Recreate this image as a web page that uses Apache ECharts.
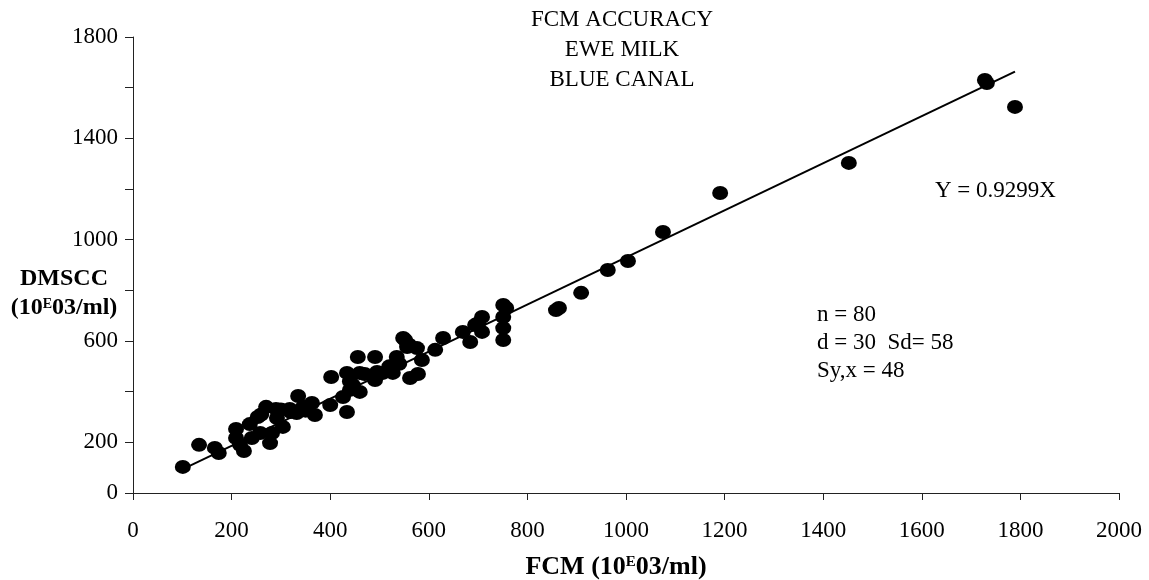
<!DOCTYPE html>
<html>
<head>
<meta charset="utf-8">
<script src="https://cdn.jsdelivr.net/npm/echarts@6/dist/echarts.min.js"></script>
<style>html,body{margin:0;padding:0;background:#fff}#c{width:1149px;height:580px}</style>
</head>
<body>
<div id="c"></div>
<script>
// FCM (x) values, 10^3/ml
const fcm = [101,134,166,174,209,209,217,225,241,237,253,270,282,278,290,304,292,258,318,335,
  332,345,363,369,400,402,434,426,434,440,446,456,460,460,491,491,495,507,527,535,
  548,556,576,562,578,586,552,613,629,669,684,694,708,708,751,757,751,751,751,858,
  864,909,963,1004,1075,1191,1452,1728,1732,1789,320,350,540,470,440,520,700,560,260,300];
// DMSCC (y) values, 10^3/ml
const dmscc = [103,190,178,158,253,217,190,166,217,272,300,340,237,197,332,261,296,237,332,383,
  316,340,355,308,347,458,320,379,474,407,426,537,474,399,537,446,478,474,474,537,
  612,576,572,454,470,525,604,565,612,636,596,663,695,636,742,730,695,651,604,722,
  730,790,880,916,1030,1184,1303,1630,1618,1524,320,325,510,470,440,500,670,585,310,330];
const slope = 0.9299;
const xTicks = [0,200,400,600,800,1000,1200,1400,1600,1800,2000];
const yTickLabels = [0,200,600,1000,1400,1800];
const titleLines = ['FCM ACCURACY','EWE MILK','BLUE CANAL'];
const equationText = 'Y = 0.9299X';
const statsLines = ['n = 80','d = 30  Sd= 58','Sy,x = 48'];

const points = fcm.map((x,i)=>[x,dmscc[i]]);
const xMin = Math.min(...fcm), xMax = Math.max(...fcm);
const fitLine = [[xMin, slope*xMin],[xMax, slope*xMax]];

const FONT = '"Liberation Serif", "Times New Roman", serif';
const chart = echarts.init(document.getElementById('c'), null, {renderer:'canvas'});
function richFor(size, supSize, raise){
  return {
    b:{fontFamily:FONT,fontWeight:'bold',fontSize:size,lineHeight:29,verticalAlign:'bottom',color:'#000'},
    s:{fontFamily:FONT,fontWeight:'bold',fontSize:supSize,padding:[0,0,raise,0],verticalAlign:'bottom',color:'#000'}
  };
}
chart.setOption({
  animation:false,
  backgroundColor:'#fff',
  grid:{left:133, right:30, top:37, bottom:87, containLabel:false},
  xAxis:{
    type:'value', min:xTicks[0], max:xTicks[xTicks.length-1], interval:xTicks[1]-xTicks[0],
    splitLine:{show:false},
    axisLine:{show:true,onZero:false,lineStyle:{color:'#222',width:1}},
    axisTick:{show:true,length:7,lineStyle:{color:'#222'}},
    axisLabel:{fontFamily:FONT,fontSize:23,color:'#000',margin:26,formatter:v=>String(v)}
  },
  yAxis:{
    type:'value', min:0, max:1800, interval:200,
    splitLine:{show:false},
    axisLine:{show:true,onZero:false,lineStyle:{color:'#222',width:1}},
    axisTick:{show:true,length:8,lineStyle:{color:'#222'}},
    axisLabel:{fontFamily:FONT,fontSize:23,color:'#000',margin:15,
      formatter:v=> yTickLabels.includes(v) ? String(v) : ''}
  },
  series:[
    {type:'line', data:fitLine, showSymbol:false, symbol:'none',
     lineStyle:{color:'#000',width:2}, z:2},
    {type:'scatter', data:points, symbol:'circle', symbolSize:[16,14],
     itemStyle:{color:'#000',opacity:1}, z:3}
  ],
  graphic:[
    {type:'text', x:622, y:5, style:{text:titleLines.join('\n'), align:'center',
      font:'23px '+FONT, lineHeight:30, fill:'#000'}},
    {type:'text', x:935, y:177, style:{text:equationText, font:'23px '+FONT, lineHeight:28, fill:'#000'}},
    {type:'text', x:817, y:301, style:{text:statsLines.join('\n'), font:'23px '+FONT, lineHeight:28, fill:'#000'}},
    {type:'text', x:64, y:262, style:{
      text:'{b|DMSCC}\n{b|(10}{s|E}{b|03/ml)}', align:'center', rich:richFor(24,14,9)}},
    {type:'text', x:616, y:551, style:{
      text:'{b|FCM (10}{s|E}{b|03/ml)}', align:'center', rich:richFor(26,15,10)}}
  ]
});
</script>
</body>
</html>
